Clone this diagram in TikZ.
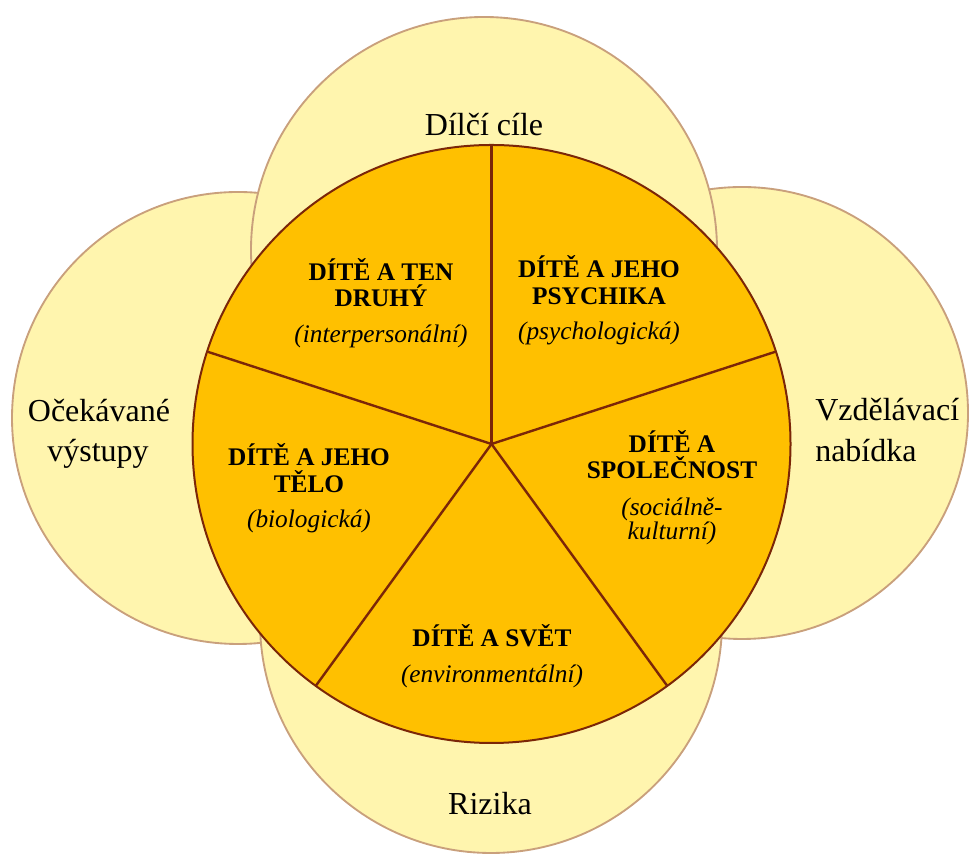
\documentclass[tikz,border=0pt]{standalone}
\usepackage{fontspec}
\setmainfont{Liberation Serif}
\definecolor{petal}{HTML}{FFF5AE}
\definecolor{petalline}{HTML}{C9A07C}
\definecolor{core}{HTML}{FFC000}
\definecolor{coreline}{HTML}{7B2608}
\tikzset{
  petalc/.style={fill=petal, draw=petalline, line width=1.4pt},
  spoke/.style={draw=coreline, line width=1.8pt},
  outlbl/.style={anchor=base, inner sep=0pt, font=\fontsize{24}{29}\selectfont},
  sect/.style={anchor=base, inner sep=0pt, font=\fontsize{19}{23}\selectfont\bfseries},
  sub/.style={anchor=base, inner sep=0pt, font=\fontsize{19}{23}\selectfont\itshape},
}
\begin{document}
\begin{tikzpicture}[x=0.75pt,y=0.75pt]
\useasboundingbox (0,0) rectangle (970,855);
% outer circles
\draw[petalc] (238,437) circle[radius=226];
\draw[petalc] (742,442) circle[radius=226];
\draw[petalc] (484,605) circle[radius=233];
\draw[petalc] (491,233) circle[radius=231];
% central pie
\coordinate (c) at (491.5,411);
\draw[fill=core, draw=coreline, line width=1.5pt] (c) circle[radius=299];
\foreach \a in {18,90,162,234,306}
  \draw[spoke] (c) -- ++(\a:299);
% outer labels
\node[outlbl] (goals) at (484,719) {Dílčí cíle};
\node[outlbl] (out1) at (99,433) {Očekávané};
\node[outlbl] (out2) at (98,393) {výstupy};
\node[outlbl, anchor=base west] (offer1) at (815,434) {Vzdělávací};
\node[outlbl, anchor=base west] (offer2) at (815,393) {nabídka};
\node[outlbl] (risks) at (490,40) {Rizika};
% sectors
\node[sect] (other1) at (381,574) {DÍTĚ A TEN};
\node[sect] (other2) at (381,548) {DRUHÝ};
\node[sub] (other3) at (381,512) {(interpersonální)};
\node[sect] (psy1) at (599,577) {DÍTĚ A JEHO};
\node[sect] (psy2) at (599,550) {PSYCHIKA};
\node[sub] (psy3) at (599,515) {(psychologická)};
\node[sect] (body1) at (309,389) {DÍTĚ A JEHO};
\node[sect] (body2) at (309,362) {TĚLO};
\node[sub] (body3) at (309,327) {(biologická)};
\node[sect] (soc1) at (672,402) {DÍTĚ A};
\node[sect] (soc2) at (672,376) {SPOLEČNOST};
\node[sub] (soc3) at (672,339) {(sociálně-};
\node[sub] (soc4) at (672,315) {kulturní)};
\node[sect] (world1) at (492,208) {DÍTĚ A SVĚT};
\node[sub] (world2) at (492,172) {(environmentální)};
\end{tikzpicture}
\end{document}
